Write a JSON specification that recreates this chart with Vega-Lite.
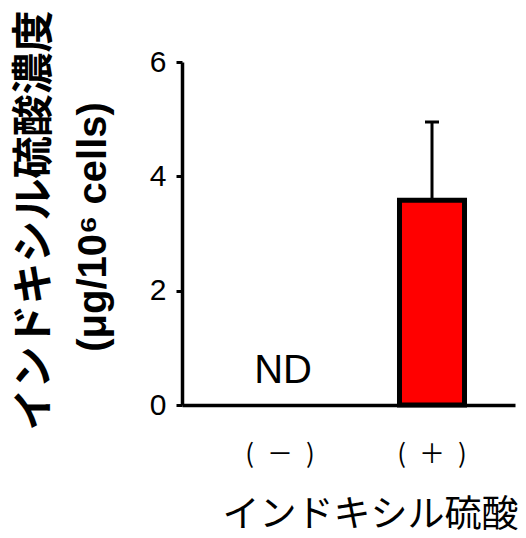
{
  "$schema": "https://vega.github.io/schema/vega-lite/v6.json",
  "width": 333,
  "height": 343,
  "autosize": {"type": "none"},
  "padding": {"left": 182, "top": 62, "right": 11, "bottom": 133},
  "background": "white",
  "config": {"view": {"stroke": null}},
  "datasets": {
    "bars": [{"group": "(\u2002＋\u2002)", "mean": 3.58, "upper": 4.95}],
    "notes": [{"group": "(\u2002－\u2002)", "base": 0, "note": "ND"}]
  },
  "encoding": {
    "x": {
      "field": "group",
      "type": "nominal",
      "scale": {"domain": ["(\u2002－\u2002)", "(\u2002＋\u2002)"], "paddingInner": 0.572, "paddingOuter": 0.382, "align": 0.565},
      "axis": {
        "title": "インドキシル硫酸",
        "titleFont": "Noto Sans CJK JP",
        "titleFontSize": 37,
        "titleFontWeight": "normal",
        "titleColor": "black",
        "titleX": 188,
        "titleY": 110,
        "titleBaseline": "middle",
        "titleAlign": "center",
        "labelFont": "Noto Sans CJK JP",
        "labelFontSize": 26,
        "labelColor": "black",
        "labelAngle": 0,
        "labelBaseline": "middle",
        "labelPadding": 49,
        "ticks": false,
        "tickSize": 0,
        "domainColor": "black",
        "domainWidth": 3.5
      }
    }
  },
  "resolve": {"axis": {"y": "independent"}},
  "layer": [
    {
      "data": {"name": "bars"},
      "mark": {"type": "bar", "fill": "#ff0000", "stroke": "black", "strokeWidth": 5},
      "encoding": {
        "y": {
          "field": "mean",
          "type": "quantitative",
          "scale": {"domain": [0, 6], "nice": false},
          "axis": {
            "values": [0, 2, 4, 6],
            "grid": false,
            "labelFont": "Liberation Sans",
            "labelFontSize": 30,
            "labelColor": "black",
            "labelPadding": 10,
            "tickSize": 6,
            "tickWidth": 3,
            "tickColor": "black",
            "domainWidth": 3.5,
            "domainColor": "black",
            "title": "(μg/10⁶ cells)",
            "titleFont": "Liberation Sans",
            "titleFontSize": 40,
            "titleFontWeight": "bold",
            "titleColor": "black",
            "titleAngle": -90,
            "titleX": -89,
            "titleY": 164.5,
            "titleBaseline": "middle",
            "titleAlign": "center"
          }
        }
      }
    },
    {
      "data": {"name": "bars"},
      "mark": {"type": "rule", "color": "black", "strokeWidth": 3},
      "encoding": {
        "y": {"field": "mean", "type": "quantitative", "axis": null},
        "y2": {"field": "upper"}
      }
    },
    {
      "data": {"name": "bars"},
      "mark": {"type": "tick", "orient": "horizontal", "size": 14, "thickness": 3, "color": "black", "opacity": 1},
      "encoding": {
        "y": {
          "field": "upper",
          "type": "quantitative",
          "scale": {"domain": [0, 6], "nice": false},
          "axis": {
            "orient": "left",
            "labels": false,
            "ticks": false,
            "domain": false,
            "grid": false,
            "title": "インドキシル硫酸濃度",
            "titleFont": "Noto Sans CJK JP",
            "titleFontSize": 42,
            "titleFontWeight": "bold",
            "titleColor": "black",
            "titleAngle": -90,
            "titleX": -148,
            "titleY": 158,
            "titleBaseline": "middle",
            "titleAlign": "center"
          }
        }
      }
    },
    {
      "data": {"name": "notes"},
      "mark": {"type": "text", "font": "Liberation Sans", "fontSize": 40, "baseline": "bottom", "dy": -14, "dx": 3, "color": "black"},
      "encoding": {
        "y": {"field": "base", "type": "quantitative", "axis": null},
        "text": {"field": "note"}
      }
    }
  ]
}
